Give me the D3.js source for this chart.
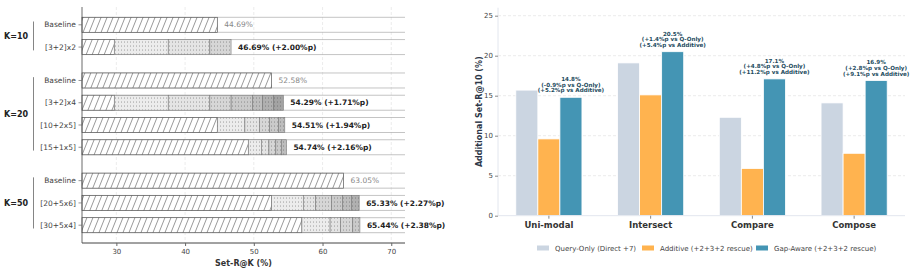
<!DOCTYPE html>
<html>
<head>
<meta charset="utf-8">
<script src="https://cdn.jsdelivr.net/npm/d3@7"></script>
<style>
  body { margin: 0; background: #fff; }
  svg { display: block; font-family: "DejaVu Sans", sans-serif; }
</style>
</head>
<body>
<div id="chart"></div>
<script>
// ---- left panel data ----
var groupNames = ["K=10", "K=20", "K=50"];
var configs = ["Baseline", "[3+2]x2", "Baseline", "[3+2]x4", "[10+2x5]", "[15+1x5]", "Baseline", "[20+5x6]", "[30+5x4]"];
var configGroup = [0, 0, 1, 1, 1, 1, 2, 2, 2];
// cumulative Set-R@K after each stage (first stage = hatched base)
var stageEnds = [
  [44.69],
  [29.7, 37.55, 43.6, 46.69],
  [52.58],
  [29.7, 37.55, 43.6, 46.7, 49.8, 51.3, 52.9, 54.29],
  [44.69, 48.7, 50.8, 52.3, 53.6, 54.51],
  [49.2, 51.1, 52.2, 53.2, 54.0, 54.74],
  [63.05],
  [52.58, 57.2, 59.0, 61.3, 62.9, 64.2, 65.33],
  [57.0, 61.1, 62.6, 64.4, 65.44]
];
var gains = [null, 2.00, null, 1.71, 1.94, 2.16, null, 2.27, 2.38];
var leftTicks = [30, 40, 50, 60, 70];

// ---- right panel data ----
var categories = ["Uni-modal", "Intersect", "Compare", "Compose"];
var seriesNames = ["Query-Only (Direct +7)", "Additive (+2+3+2 rescue)", "Gap-Aware (+2+3+2 rescue)"];
var queryOnly = [15.7, 19.1, 12.3, 14.1];
var additive = [9.6, 15.1, 5.9, 7.8];
var gapAware = [14.8, 20.5, 17.1, 16.9];
var rightTicks = [0, 5, 10, 15, 20, 25];

var W = 912, H = 273;
var svg = d3.select("#chart").append("svg").attr("width", W).attr("height", H);
var defs = svg.append("defs");

// hatch for base stage
var hatch = defs.append("pattern").attr("id", "hatch")
  .attr("patternUnits", "userSpaceOnUse").attr("width", 6).attr("height", 15);
hatch.append("rect").attr("width", 6).attr("height", 15).attr("fill", "#fff");
hatch.append("path").attr("d", "M0,15 L6,0 M-1,2.5 L0,0 M6,15 L7,12.5")
  .attr("stroke", "#444").attr("stroke-width", 0.55).attr("fill", "none");

// dots for rescue stages
var dots = defs.append("pattern").attr("id", "dots")
  .attr("patternUnits", "userSpaceOnUse").attr("width", 3).attr("height", 4);
dots.append("circle").attr("cx", 1.5).attr("cy", 2).attr("r", 0.45).attr("fill", "#444");

var shades = ["#ececec", "#e4e4e4", "#d6d6d6", "#cacaca", "#bdbdbd", "#b0b0b0", "#a3a3a3"];

// ================= left panel =================
var xL = d3.scaleLinear().domain([25, 72]).range([82, 405]);
var slot = configs.map(function(d, i) { return i + 0.5 * configGroup[i]; });
var yL = d3.scaleLinear().domain([-0.8, 9.8]).range([7, 243]);
var barH = 15;

var left = svg.append("g");

// vertical grid
left.selectAll("line.grid").data(leftTicks).enter().append("line")
  .attr("x1", function(d) { return xL(d); }).attr("x2", function(d) { return xL(d); })
  .attr("y1", 7).attr("y2", 243)
  .attr("stroke", "#e4e4e4").attr("stroke-width", 0.7).attr("stroke-dasharray", "3,2");

// row edges across full width (top and bottom only)
configs.forEach(function(c, i) {
  [-barH / 2, barH / 2].forEach(function(off) {
    var y = yL(slot[i]) + off;
    left.append("line").attr("x1", xL(25)).attr("x2", xL(72)).attr("y1", y).attr("y2", y)
      .attr("stroke", "#aaa").attr("stroke-width", 0.7);
  });
});

// bars
configs.forEach(function(c, i) {
  var ends = stageEnds[i];
  var y = yL(slot[i]) - barH / 2;
  var g = left.append("g");
  ends.forEach(function(v, j) {
    var start = j === 0 ? 25 : ends[j - 1];
    var x0 = xL(start), w = xL(v) - xL(start);
    if (j === 0) {
      g.append("rect").attr("x", x0).attr("y", y).attr("width", w).attr("height", barH)
        .attr("fill", "url(#hatch)").attr("stroke", "#555").attr("stroke-width", 0.7);
    } else {
      g.append("rect").attr("x", x0).attr("y", y).attr("width", w).attr("height", barH)
        .attr("fill", shades[Math.min(j - 1, shades.length - 1)]);
      g.append("rect").attr("x", x0).attr("y", y).attr("width", w).attr("height", barH)
        .attr("fill", "url(#dots)").attr("stroke", "#777").attr("stroke-width", 0.6);
    }
  });
  var end = ends[ends.length - 1];
  var lbl = g.append("text").attr("x", xL(end) + 7).attr("y", yL(slot[i]))
    .attr("dy", "0.35em").attr("font-size", 7.5);
  if (gains[i] === null) {
    lbl.attr("fill", "#888").text(end.toFixed(2) + "%");
  } else {
    lbl.attr("fill", "#222").attr("font-weight", "bold")
      .text(end.toFixed(2) + "% (+" + gains[i].toFixed(2) + "%p)");
  }
});

// axes
var xAxisL = d3.axisBottom(xL).tickValues(leftTicks).tickSize(3).tickPadding(3);
var gxL = left.append("g").attr("transform", "translate(0,243)").call(xAxisL);
gxL.select(".domain").attr("stroke", "#444").attr("d", "M" + xL(25) + ",0H" + xL(72));
gxL.selectAll(".tick line").attr("stroke", "#666");
gxL.selectAll("text").attr("font-size", 7).attr("fill", "#444").attr("font-family", "DejaVu Sans");

left.append("line").attr("x1", 82).attr("x2", 82).attr("y1", 7).attr("y2", 243)
  .attr("stroke", "#444").attr("stroke-width", 0.8);

configs.forEach(function(c, i) {
  var y = yL(slot[i]);
  left.append("line").attr("x1", 78.5).attr("x2", 82).attr("y1", y).attr("y2", y)
    .attr("stroke", "#666").attr("stroke-width", 0.7);
  left.append("text").attr("x", 76).attr("y", y).attr("dy", "0.35em")
    .attr("text-anchor", "end").attr("font-size", 7.5).attr("fill", "#444").text(c);
});

left.append("text").attr("x", xL(48.5)).attr("y", 266).attr("text-anchor", "middle")
  .attr("font-size", 8).attr("font-weight", "bold").attr("fill", "#333").text("Set-R@K (%)");

// group brackets
groupNames.forEach(function(gname, gi) {
  var idx = configGroup.map(function(g, i) { return g === gi ? i : -1; }).filter(function(i) { return i >= 0; });
  var y0 = yL(slot[idx[0]]) - 3.3, y1 = yL(slot[idx[idx.length - 1]]) + 3.3;
  left.append("line").attr("x1", 33.5).attr("x2", 33.5).attr("y1", y0).attr("y2", y1)
    .attr("stroke", "#666").attr("stroke-width", 0.8);
  left.append("text").attr("x", 4).attr("y", (y0 + y1) / 2).attr("dy", "0.35em")
    .attr("font-size", 8).attr("font-weight", "bold").attr("fill", "#222").text(gname);
});

// ================= right panel =================
var x0R = d3.scaleBand().domain(categories).range([498, 905]).paddingInner(0.35).paddingOuter(0.175);
var x1R = d3.scaleBand().domain(seriesNames).range([0, x0R.bandwidth()]);
var yR = d3.scaleLinear().domain([0, 26]).range([215.7, 7.7]);
var colors = ["#cbd5e1", "#ffb34f", "#4495b4"];
var seriesVals = [queryOnly, additive, gapAware];

var right = svg.append("g");

right.selectAll("line.grid").data(rightTicks.slice(1)).enter().append("line")
  .attr("x1", 498).attr("x2", 905)
  .attr("y1", function(d) { return yR(d); }).attr("y2", function(d) { return yR(d); })
  .attr("stroke", "#e2e2e2").attr("stroke-width", 0.7).attr("stroke-dasharray", "3,2");

seriesVals.forEach(function(vals, s) {
  right.selectAll("rect.s" + s).data(vals).enter().append("rect")
    .attr("x", function(d, i) { return x0R(categories[i]) + x1R(seriesNames[s]); })
    .attr("width", x1R.bandwidth())
    .attr("y", function(d) { return yR(d); })
    .attr("height", function(d) { return yR(0) - yR(d); })
    .attr("fill", colors[s]).attr("stroke", "#fff").attr("stroke-width", 0.8);
});

// annotations over gap-aware bars
gapAware.forEach(function(v, i) {
  var cx = x0R(categories[i]) + x1R(seriesNames[2]) + x1R.bandwidth() / 2;
  var dq = v - queryOnly[i], da = v - additive[i];
  var lines = [
    v.toFixed(1) + "%",
    "(" + (dq >= 0 ? "+" : "") + dq.toFixed(1) + "%p vs Q-Only)",
    "(" + (da >= 0 ? "+" : "") + da.toFixed(1) + "%p vs Additive)"
  ];
  var t = right.append("text").attr("x", cx).attr("text-anchor", "middle")
    .attr("font-size", 5.6).attr("font-weight", "bold").attr("fill", "#1d4b5e");
  lines.forEach(function(l, k) {
    t.append("tspan").attr("x", cx).attr("y", yR(v) - 5 - (2 - k) * 5.6).text(l);
  });
});

var yAxisR = d3.axisLeft(yR).tickValues(rightTicks).tickSize(3).tickPadding(2);
var gyR = right.append("g").attr("transform", "translate(498,0)").call(yAxisR);
gyR.select(".domain").attr("stroke", "#e2e6ee").attr("d", "M0," + yR(26) + "V" + yR(0));
gyR.selectAll(".tick line").attr("stroke", "#888");
gyR.selectAll("text").attr("font-size", 7).attr("fill", "#444").attr("font-family", "DejaVu Sans");

var xAxisR = d3.axisBottom(x0R).tickSize(3).tickPadding(3);
var gxR = right.append("g").attr("transform", "translate(0," + yR(0) + ")").call(xAxisR);
gxR.select(".domain").attr("stroke", "#e2e6ee").attr("d", "M498,0H905");
gxR.selectAll(".tick line").attr("stroke", "#888");
gxR.selectAll("text").attr("font-size", 8.5).attr("font-weight", "bold").attr("fill", "#333")
  .attr("font-family", "DejaVu Sans");

right.append("text").attr("transform", "translate(482," + yR(13) + ") rotate(-90)")
  .attr("text-anchor", "middle").attr("font-size", 8).attr("font-weight", "bold")
  .attr("fill", "#2d3748").text("Additional Set-R@10 (%)");

// legend
var legendX = [537, 642, 756];
seriesNames.forEach(function(n, s) {
  right.append("rect").attr("x", legendX[s]).attr("y", 245.5).attr("width", 12).attr("height", 5)
    .attr("fill", colors[s]);
  right.append("text").attr("x", legendX[s] + 18).attr("y", 248.3).attr("dy", "0.35em")
    .attr("font-size", 7).attr("fill", "#444").text(n);
});
</script>
</body>
</html>
